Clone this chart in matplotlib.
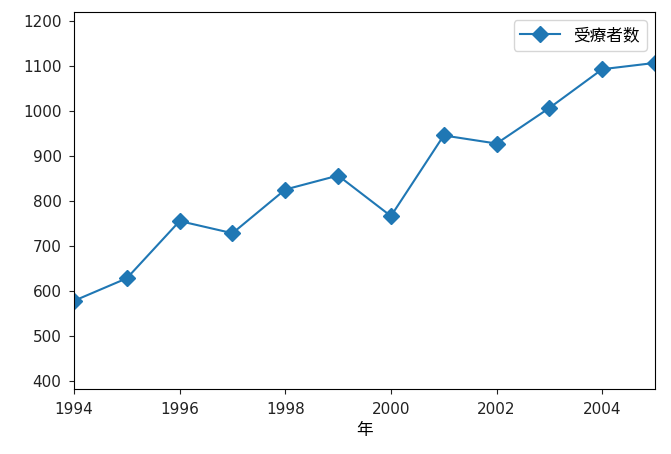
import matplotlib
matplotlib.use("Agg")
import matplotlib.pyplot as plt

plt.rcParams["font.family"] = ["DejaVu Sans", "Noto Sans CJK SC"]

years = [1994, 1995, 1996, 1997, 1998, 1999, 2000, 2001, 2002, 2003, 2004, 2005]
patients = [578, 628, 755, 728, 825, 856, 766, 945, 927, 1006, 1092, 1106]

fig = plt.figure(figsize=(6.71, 4.54), dpi=100)
ax = fig.add_axes([0.1103, 0.1425, 0.8659, 0.8311])
ax.plot(years, patients, marker="D", markersize=8, color="#1f77b4", label="受療者数")
ax.set_xlim(1994, 2005)
ax.set_ylim(381.6, 1219)
ax.set_xticks([1994, 1996, 1998, 2000, 2002, 2004])
ax.tick_params(labelsize=11, colors="#222222", pad=5.5)
ax.set_xlabel("年", family=["Noto Sans CJK SC", "DejaVu Sans"], fontsize=12, labelpad=4)
ax.legend(loc="upper right", prop={"family": ["Noto Sans CJK SC", "DejaVu Sans"], "size": 12},
          handlelength=2.4)

fig.savefig("out.png", dpi=100)
